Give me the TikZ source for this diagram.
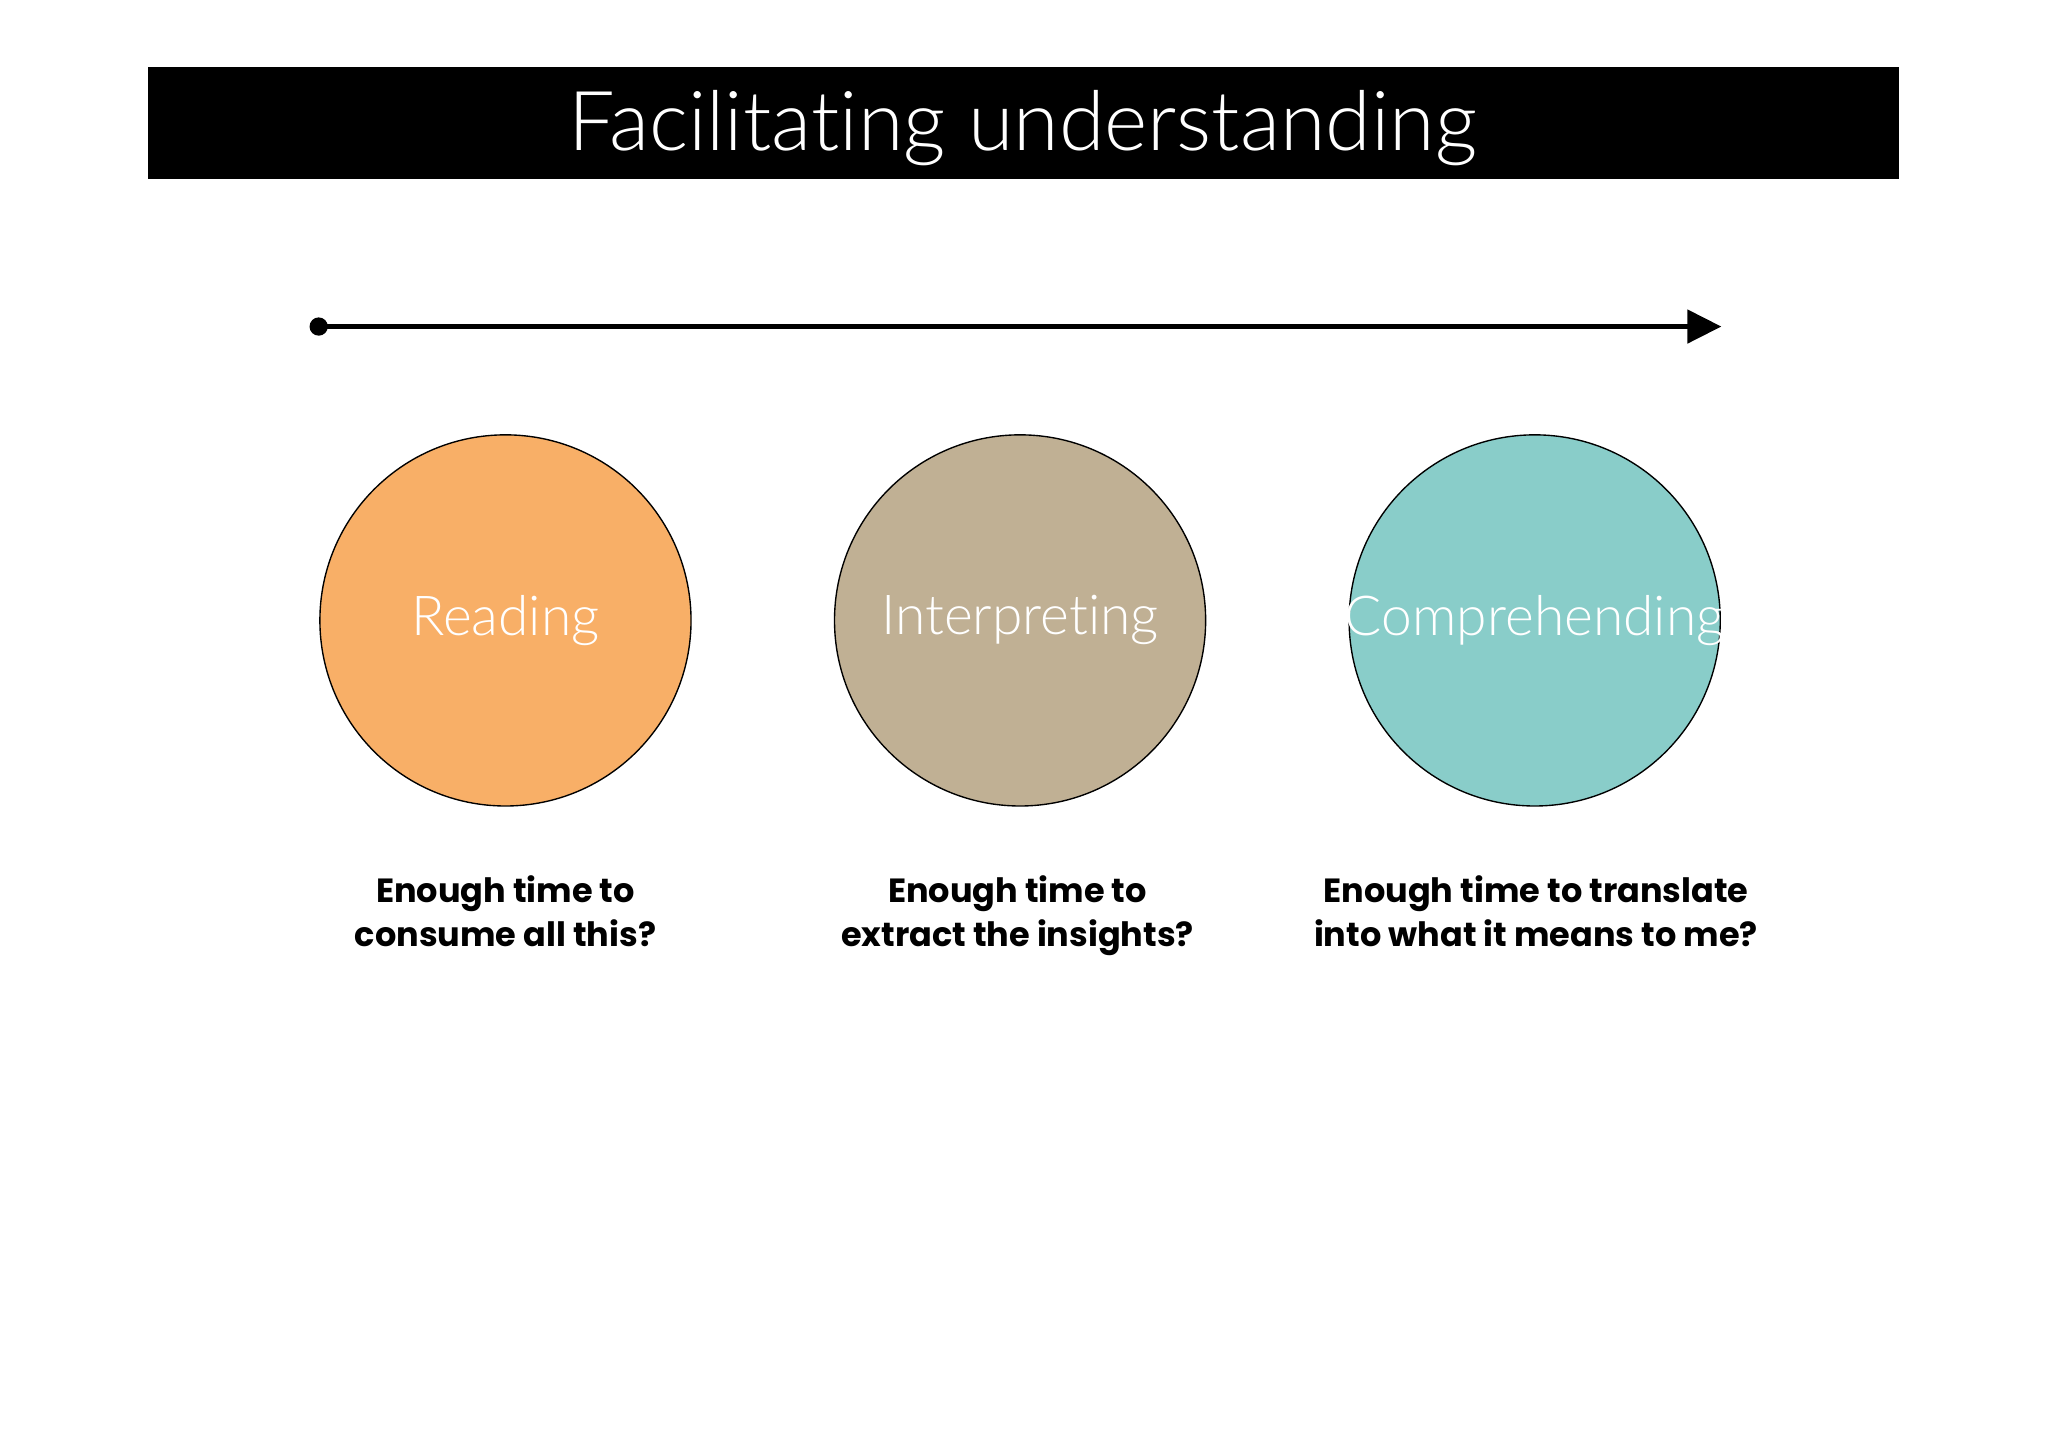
\documentclass[tikz,border=0pt]{standalone}
\usepackage{fontspec}
\setmainfont{Poppins}
\newfontfamily\lightfont[Ligatures={NoCommon}]{Lato Light}
\usetikzlibrary{arrows.meta}
\definecolor{cA}{HTML}{F8AF67}
\definecolor{cB}{HTML}{C0B094}
\definecolor{cC}{HTML}{89CDC9}
\tikzset{stage/.style={circle,draw=black,line width=0.3pt,minimum size=2.84cm,inner sep=0pt},
stagelabel/.style={text=white,inner sep=0pt,font=\lightfont\fontsize{12}{14}\selectfont},
captext/.style={align=center,anchor=north,font=\bfseries\fontsize{7.3}{9.6}\selectfont}}
\begin{document}
\begin{tikzpicture}[x=0.01cm,y=-0.01cm]
\useasboundingbox (0,0) rectangle (1568,1108);
\fill[black] (113,51) rectangle (1454,137);
\node[text=white,font=\lightfont\fontsize{18}{22}\selectfont] (title) at (783,98) {Facilitating understanding};
\coordinate (s) at (244,250);
\coordinate (e) at (1318,250);
\fill (s) circle (7);
\draw[line width=1.2pt,-{Triangle[length=0.26cm,width=0.25cm]}] (s) -- (e);
\node[stage,fill=cA] (r) at (387,475) {};
\node[stage,fill=cB] (i) at (781,475) {};
\node[stage,fill=cC] (c) at (1175,475) {};
\node[stagelabel] (rl) at (r) {Reading};
\node[stagelabel] (il) at (i) {Interpreting};
\node[stagelabel] (cl) at (c) {Comprehending};
\node[captext] (rt) at (387,658) {Enough time to\\consume all this?};
\node[captext] (it) at (779,658) {Enough time to\\extract the insights?};
\node[captext] (ct) at (1176,658) {Enough time to translate\\into what it means to me?};
\end{tikzpicture}
\end{document}
